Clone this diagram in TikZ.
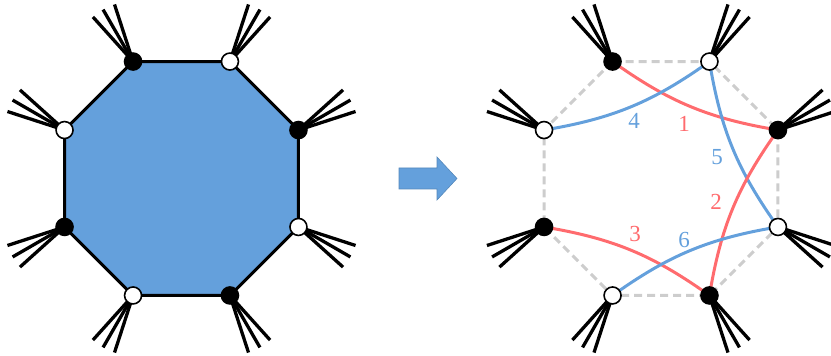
\documentclass[tikz,border=0pt]{standalone}
\usepackage{fontspec}
\newfontfamily\labelfont{Liberation Serif}
\usetikzlibrary{arrows}
\definecolor{octblue}{RGB}{100,160,220}
\definecolor{chordred}{RGB}{255,107,110}
\definecolor{dashgray}{RGB}{205,205,205}

\begin{document}
\begin{tikzpicture}[x=1pt,y=1pt,
  bdot/.style={circle,draw=black,fill=black,line width=1.6pt,inner sep=0,minimum size=17pt},
  wdot/.style={circle,draw=black,fill=white,line width=1.6pt,inner sep=0,minimum size=17pt},
  fan/.style={line width=3.3pt},
  chord/.style={line width=3pt},
  lbl/.style={font=\labelfont\fontsize{23}{27}\selectfont}]
\useasboundingbox (0,0) rectangle (831,356);

% VERTICES OF BOTH OCTAGONS
\foreach \s/\cx in {L/181.5,R/661}{
  \foreach \i/\a in {1/112.5,2/67.5,3/22.5,4/-22.5,5/-67.5,6/-112.5,7/-157.5,8/157.5}
    \coordinate (\s\i) at ([shift={(\cx,177.5)}]\a:126.6);
}

% FILLED OCTAGON (LEFT), DASHED OCTAGON (RIGHT)
\draw[fill=octblue,line width=3pt,line join=round] (L1) -- (L2) -- (L3) -- (L4) -- (L5) -- (L6) -- (L7) -- (L8) -- cycle;
\draw[dashgray,line width=3pt,dash pattern=on 8pt off 5pt] (R1) -- (R2) -- (R3) -- (R4) -- (R5) -- (R6) -- (R7) -- (R8) -- cycle;

% FANS OF LEGS
\foreach \s in {L,R}{
  \foreach \i/\f in {1/120,2/60,3/30,4/-30,5/-60,6/-120,7/210,8/150}{
    \foreach \d in {-12,0,12}{
      \pgfmathsetmacro\ang{\f+\d}
      \draw[fan] (\s\i) -- ++(\ang:60);
    }
  }
}

% CHORDS
\draw[chord,chordred] (R1) to[bend right=13] (R3);
\draw[chord,octblue] (R8) to[bend right=13] (R2);
\draw[chord,octblue] (R2) to[bend right=13] (R4);
\draw[chord,chordred] (R3) to[bend right=13] (R5);
\draw[chord,chordred] (R7) to[bend left=13] (R5);
\draw[chord,octblue] (R6) to[bend left=13] (R4);

% DOTS
\foreach \s in {L,R}{
  \foreach \i in {1,3,5,7} \node[bdot] (\s d\i) at (\s\i) {};
  \foreach \i in {2,4,6,8} \node[wdot] (\s d\i) at (\s\i) {};
}

% LABELS
\node[lbl,text=octblue] (n4) at (634,235) {4};
\node[lbl,text=chordred] (n1) at (684,232) {1};
\node[lbl,text=octblue] (n5) at (717,199) {5};
\node[lbl,text=chordred] (n2) at (716,154) {2};
\node[lbl,text=chordred] (n3) at (635,122) {3};
\node[lbl,text=octblue] (n6) at (684,116) {6};

% BLOCK ARROW
\draw[octblue!85!black,fill=octblue,line width=0.6pt] (399,188) -- (437,188) -- (437,199) -- (457,177.5) -- (437,156) -- (437,167) -- (399,167) -- cycle;
\end{tikzpicture}
\end{document}
